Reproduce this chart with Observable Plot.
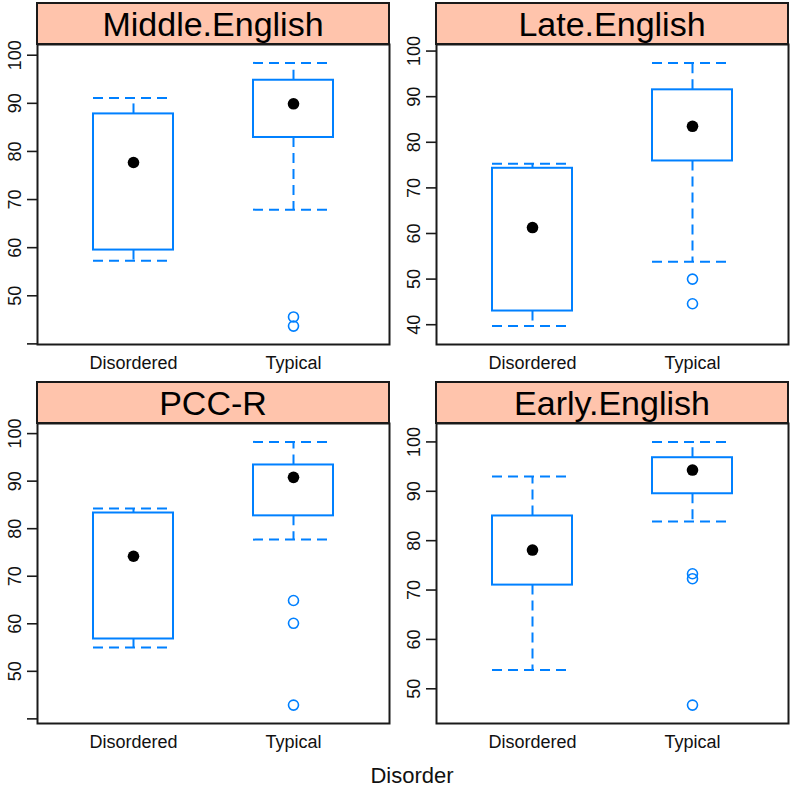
<!DOCTYPE html>
<html>
<head>
<meta charset="utf-8">
<script src="https://cdn.jsdelivr.net/npm/d3@7"></script>
<script src="https://cdn.jsdelivr.net/npm/@observablehq/plot@0.6"></script>
<style>
  html, body { margin: 0; padding: 0; background: #fff; }
  #wrap { position: relative; width: 790px; height: 790px; overflow: hidden; font-family: "Liberation Sans", Arial, Helvetica, sans-serif; }
  .panel { position: absolute; }
  #xlab { position: absolute; left: 0; width: 824px; top: 763px; text-align: center; font-size: 22px; color: #111; }
</style>
</head>
<body>
<div id="wrap">
  <div id="xlab">Disorder</div>
</div>
<script>
// ---- data ----
const panelNames = ["Middle.English", "Late.English", "PCC-R", "Early.English"];
const groups = ["Disordered", "Typical"];
// per panel: [Disordered, Typical]
const lowWhisker  = [[57.3, 67.9], [39.7, 53.8], [55.0, 77.7], [53.8, 83.9]];
const lowerHinge  = [[59.5, 82.9], [43.0, 75.9], [56.8, 82.7], [71.0, 89.5]];
const medians     = [[77.7, 89.9], [61.3, 83.5], [74.2, 90.8], [78.1, 94.3]];
const upperHinge  = [[87.8, 94.8], [74.3, 91.5], [83.3, 93.4], [85.0, 96.8]];
const highWhisker = [[91.1, 98.4], [75.3, 97.4], [84.25, 98.25], [93.0, 100.0]];
const outliers    = [[[], [45.6, 43.7]], [[], [50.0, 44.6]], [[], [64.9, 60.1, 42.9]], [[], [73.3, 72.3, 46.7]]];
const yTicks = [40, 50, 60, 70, 80, 90, 100];
const yTickLabels = [[50, 60, 70, 80, 90, 100], [40, 50, 60, 70, 80, 90, 100], [50, 60, 70, 80, 90, 100], [50, 60, 70, 80, 90, 100]];

// ---- styles ----
const blue = "#0080ff";
const stripFill = "#ffc4ac";
const ink = "#1a1a1a";
const font = "'Liberation Sans', Arial, Helvetica, sans-serif";
const positions = [{left: -0.3, top: 0}, {left: 398.7, top: 0}, {left: -0.3, top: 378.7}, {left: 398.7, top: 378.7}];

function strip(title) {
  return (index, scales, values, dims) => {
    const g = d3.create("svg:g");
    const x0 = dims.marginLeft, x1 = dims.width - dims.marginRight;
    const y1 = dims.marginTop, y0 = dims.marginTop - 41;
    g.append("rect").attr("x", x0).attr("y", y0).attr("width", x1 - x0).attr("height", y1 - y0)
      .attr("fill", stripFill).attr("stroke", ink).attr("stroke-width", 2);
    g.append("text").attr("x", (x0 + x1) / 2).attr("y", (y0 + y1) / 2).attr("dy", "0.36em")
      .attr("text-anchor", "middle").attr("font-size", 34).attr("fill", "#000")
      .attr("font-family", font).text(title);
    return g.node();
  };
}

const wrap = document.getElementById("wrap");

panelNames.forEach((name, p) => {
  const stats = groups.map((g, i) => ({
    group: g,
    lo: lowWhisker[p][i], q1: lowerHinge[p][i], med: medians[p][i],
    q3: upperHinge[p][i], hi: highWhisker[p][i]
  }));
  const outs = groups.flatMap((g, i) => outliers[p][i].map(v => ({group: g, value: v})));
  const all = stats.flatMap(d => [d.lo, d.hi]).concat(outs.map(d => d.value));
  const [mn, mx] = d3.extent(all);
  const pad = (mx - mn) * 0.07;
  const domain = [mn - pad, mx + pad];
  const ticks = yTicks.filter(t => t >= domain[0] && t <= domain[1]);
  const shown = yTickLabels[p];

  const chart = Plot.plot({
    width: 392,
    height: 44 + 300 + 46,
    marginLeft: 37, marginRight: 3, marginTop: 44, marginBottom: 46,
    style: {fontFamily: font, background: "transparent", overflow: "visible", color: ink},
    x: {type: "band", domain: groups, paddingInner: 0.5, paddingOuter: 0.35, align: 0.5, label: null},
    y: {domain, label: null},
    marks: [
      Plot.axisY(ticks, {tickSize: 10, tickPadding: 7, tickRotate: -90, fontSize: 18, strokeWidth: 1.6,
        label: null, tickFormat: d => shown.includes(d) ? String(d) : "", fill: "#111"}),
      Plot.axisX({tickSize: 0, tickPadding: 12, fontSize: 18, fill: "#111", label: null}),
      Plot.ruleX(stats, {x: "group", y1: "q3", y2: "hi", stroke: blue, strokeWidth: 2, strokeDasharray: "10,6"}),
      Plot.ruleX(stats, {x: "group", y1: "q1", y2: "lo", stroke: blue, strokeWidth: 2, strokeDasharray: "10,6"}),
      Plot.tickY(stats, {x: "group", y: "hi", stroke: blue, strokeWidth: 2, strokeDasharray: "10,6"}),
      Plot.tickY(stats, {x: "group", y: "lo", stroke: blue, strokeWidth: 2, strokeDasharray: "10,6"}),
      Plot.barY(stats, {x: "group", y1: "q1", y2: "q3", fill: "white", stroke: blue, strokeWidth: 2}),
      Plot.dot(stats, {x: "group", y: "med", r: 5.8, fill: "black", stroke: "none"}),
      Plot.dot(outs, {x: "group", y: "value", r: 5, fill: "none", stroke: blue, strokeWidth: 1.6}),
      Plot.frame({stroke: ink, strokeWidth: 2}),
      strip(name)
    ]
  });
  chart.classList.add("panel");
  chart.style.left = positions[p].left + "px";
  chart.style.top = positions[p].top + "px";
  chart.style.position = "absolute";
  wrap.appendChild(chart);
});
</script>
</body>
</html>
